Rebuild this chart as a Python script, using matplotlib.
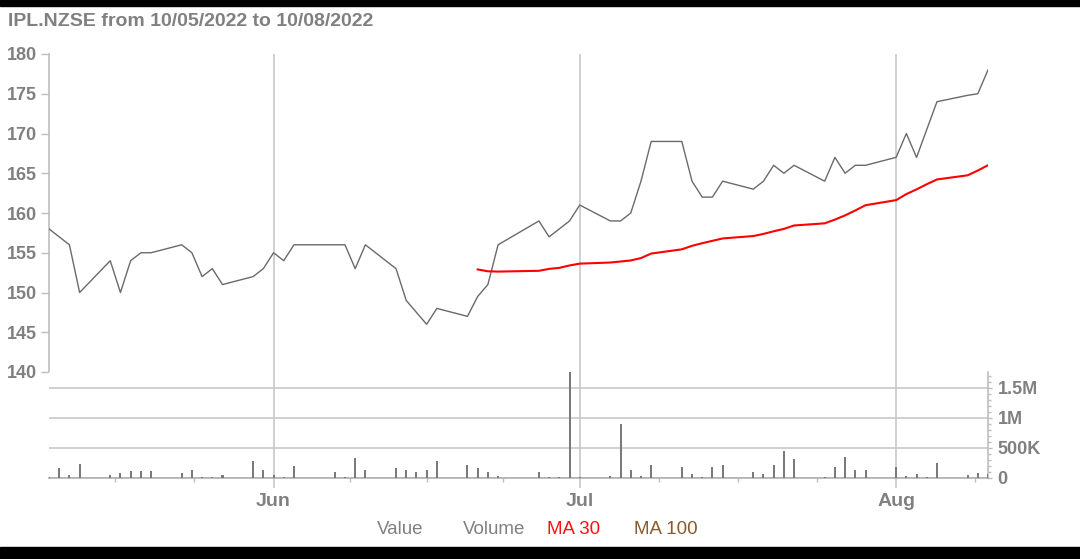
import matplotlib
matplotlib.use("Agg")
import matplotlib.pyplot as plt
import matplotlib.dates as mdates
from matplotlib.patches import Rectangle
from matplotlib.ticker import MultipleLocator, FixedLocator
import pandas as pd

plt.rcParams['font.family'] = ['Liberation Sans', 'DejaVu Sans']

# ---------------- data ----------------
dates = [
    "2022-05-10", "2022-05-11", "2022-05-12", "2022-05-13", "2022-05-16", "2022-05-17",
    "2022-05-18", "2022-05-19", "2022-05-20", "2022-05-23", "2022-05-24", "2022-05-25",
    "2022-05-26", "2022-05-27", "2022-05-30", "2022-05-31", "2022-06-01", "2022-06-02",
    "2022-06-03", "2022-06-07", "2022-06-08", "2022-06-09", "2022-06-10", "2022-06-13",
    "2022-06-14", "2022-06-15", "2022-06-16", "2022-06-17", "2022-06-20", "2022-06-21",
    "2022-06-22", "2022-06-23", "2022-06-27", "2022-06-28", "2022-06-29", "2022-06-30",
    "2022-07-01", "2022-07-04", "2022-07-05", "2022-07-06", "2022-07-07", "2022-07-08",
    "2022-07-11", "2022-07-12", "2022-07-13", "2022-07-14", "2022-07-15", "2022-07-18",
    "2022-07-19", "2022-07-20", "2022-07-21", "2022-07-22", "2022-07-25", "2022-07-26",
    "2022-07-27", "2022-07-28", "2022-07-29", "2022-08-01", "2022-08-02", "2022-08-03",
    "2022-08-04", "2022-08-05", "2022-08-08", "2022-08-09", "2022-08-10",
]
price = [
    158, 157, 156, 150, 154, 150, 154, 155, 155, 156, 155, 152,
    153, 151, 152, 153, 155, 154, 156, 156, 156, 153, 156, 153,
    149, 147.5, 146, 148, 147, 149.5, 151, 156, 159, 157, 158, 159,
    161, 159, 159, 160, 164, 169, 169, 164, 162, 162, 164, 163,
    164, 166, 165, 166, 164, 167, 165, 166, 166, 167, 170, 167,
    170.5, 174, 174.8, 175, 178,
]
volume = [
    10e3, 165e3, 50e3, 235e3, 50e3, 80e3, 115e3, 115e3, 115e3, 80e3, 140e3, 20e3,
    20e3, 50e3, 290e3, 140e3, 50e3, 20e3, 200e3, 100e3, 15e3, 340e3, 130e3, 160e3,
    130e3, 100e3, 130e3, 290e3, 220e3, 160e3, 100e3, 35e3, 100e3, 20e3, 20e3, 1760e3,
    20e3, 35e3, 900e3, 133e3, 35e3, 220e3, 190e3, 70e3, 15e3, 190e3, 220e3, 100e3,
    70e3, 220e3, 445e3, 320e3, 15e3, 190e3, 350e3, 133e3, 133e3, 190e3, 35e3, 70e3,
    15e3, 245e3, 55e3, 85e3, 60e3,
]
# MA 30 values (from 2022-06-21 onward)
ma30 = [
    152.90, 152.67, 152.63, 152.73, 152.97, 153.10, 153.40, 153.63, 153.77, 153.90,
    154.03, 154.33, 154.90, 155.43, 155.87, 156.20, 156.50, 156.80, 157.10, 157.37,
    157.70, 158.00, 158.43, 158.70, 159.17, 159.70, 160.32, 160.98, 161.62, 162.38,
    162.97, 163.62, 164.22, 164.74, 165.34, 166.01,
]
price_ticks = [140, 145, 150, 155, 160, 165, 170, 175, 180]
vol_ticks = [0, 500e3, 1e6, 1.5e6]
vol_labels = ["0", "500K", "1M", "1.5M"]
title = "IPL.NZSE from 10/05/2022 to 10/08/2022"
legend_items = [("Value", "#808080"), ("Volume", "#808080"),
                ("MA 30", "#ff1010"), ("MA 100", "#8b5a2b")]

# ---------------- layout ----------------
W, H = 1080, 559
fig = plt.figure(figsize=(W / 100, H / 100), dpi=100)
fig.patch.set_facecolor("white")


def rect(l, t, r, b):
    return [l / W, 1 - b / H, (r - l) / W, (b - t) / H]


axp = fig.add_axes(rect(49, 54, 988, 372))
axv = fig.add_axes(rect(49, 372, 988, 478), sharex=axp)

d = pd.to_datetime(dates)
GRID = "#c8c8c8"
TXT = "#808080"

# price pane
axp.plot(d, price, color="#6a6a6a", lw=1.0, zorder=3)
axp.plot(d[-len(ma30):], ma30, color="#ff0000", lw=1.5, zorder=4)
axp.set_ylim(price_ticks[0], price_ticks[-1])
axp.set_yticks(price_ticks)
axp.yaxis.set_minor_locator(FixedLocator(price_ticks[1:-1]))
axp.tick_params(axis="y", which="major", direction="out", length=5.5, width=1,
                color="#bdbdbd", labelcolor=TXT, labelsize=13, pad=3.5)
axp.tick_params(axis="y", which="minor", length=0)
for lbl in axp.get_yticklabels():
    lbl.set_fontweight("bold")
axp.grid(axis="y", which="minor", color=GRID, lw=1.2)
axp.grid(axis="x", which="major", color=GRID, lw=1.2)
axp.tick_params(axis="x", which="both", bottom=False, labelbottom=False)
for s in ["top", "right", "bottom"]:
    axp.spines[s].set_visible(False)
axp.spines["left"].set_color("#bdbdbd")
axp.spines["left"].set_linewidth(1.2)

# volume pane
axv.bar(d, volume, width=0.2, color="#7a7a7a", zorder=3)
axv.set_ylim(0, max(volume))
axv.yaxis.tick_right()
axv.set_yticks(vol_ticks)
axv.set_yticklabels(vol_labels)
axv.yaxis.set_minor_locator(MultipleLocator(100e3))
axv.tick_params(axis="y", which="major", direction="out", length=3, width=1,
                color="#bdbdbd", labelcolor=TXT, labelsize=13, pad=4)
axv.tick_params(axis="y", which="minor", direction="out", length=2, width=1,
                color="#bdbdbd")
for lbl in axv.get_yticklabels():
    lbl.set_fontweight("bold")
axv.set_axisbelow(True)
axv.grid(axis="y", which="major", color=GRID, lw=1.2)
axv.grid(axis="x", which="major", color=GRID, lw=1.2)
for s in ["top", "left"]:
    axv.spines[s].set_visible(False)
axv.spines["right"].set_color("#bdbdbd")
axv.spines["right"].set_linewidth(1.2)
axv.spines["bottom"].set_color("#b0b0b0")
axv.spines["bottom"].set_linewidth(1.2)

axv.xaxis.set_major_locator(mdates.MonthLocator())
axv.xaxis.set_major_formatter(mdates.DateFormatter("%b"))
minor_pos = []
for m in pd.date_range("2022-05-01", "2022-08-01", freq="MS"):
    n = m.days_in_month
    for k in (1, 2, 3):
        minor_pos.append(mdates.date2num(m + pd.Timedelta(days=k * n / 4)))
axv.xaxis.set_minor_locator(FixedLocator(minor_pos))
axv.tick_params(axis="x", which="major", direction="out", length=7.5, width=1.2,
                color=GRID, labelcolor=TXT, labelsize=14, pad=3)
axv.tick_params(axis="x", which="minor", direction="out", length=3, width=1,
                color="#bdbdbd")
for lbl in axv.get_xticklabels():
    lbl.set_fontweight("bold")
axp.set_xlim(pd.Timestamp("2022-05-10"), pd.Timestamp("2022-08-10"))

# title and legend
fig.text(8 / W, 1 - 26.5 / H, title, fontsize=14, fontweight="bold",
         color=TXT, va="baseline", ha="left")
leg_x = [377, 463, 547, 634]
for (txt, col), x in zip(legend_items, leg_x):
    fig.text(x / W, 1 - 530 / H, txt, fontsize=13.5, color=col,
             va="center", ha="left")

# black frame bars
fig.add_artist(Rectangle((0, 1 - 6 / H), 1, 6 / H, transform=fig.transFigure,
                         color="black", zorder=10))
fig.add_artist(Rectangle((0, 0), 1, 12 / H, transform=fig.transFigure,
                         color="black", zorder=10))

fig.savefig("out.png", dpi=100)
